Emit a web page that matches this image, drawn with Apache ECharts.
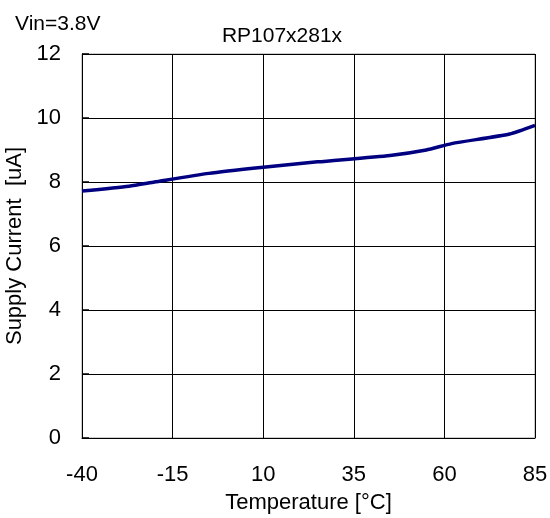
<!DOCTYPE html>
<html><head><meta charset="utf-8">
<script src="https://cdn.jsdelivr.net/npm/echarts@6/dist/echarts.min.js"></script>
<style>html,body{margin:0;padding:0;background:#fff}#c{width:550px;height:518px}</style>
</head><body><div id="c"></div>
<script>
const temps = [-40, -27, -20, -5, 10, 25, 45, 55, 62, 78, 85];
const current = [7.72, 7.87, 8.00, 8.27, 8.46, 8.63, 8.83, 9.00, 9.20, 9.50, 9.77];
const xTicks = [-40, -15, 10, 35, 60, 85];
const yTicks = [0, 2, 4, 6, 8, 10, 12];
const titleText = 'RP107x281x';
const condText = 'Vin=3.8V';
const xName = 'Temperature [°C]';
const yName = 'Supply Current  [uA]';

// x axis is laid out relative to its first tick so ticks fall every 25 from -40
const xMin = xTicks[0];
const xMax = xTicks[xTicks.length - 1];
const xStep = xTicks[1] - xTicks[0];

const font = 'Liberation Sans, Arial, sans-serif';
const chart = echarts.init(document.getElementById('c'), null, {renderer: 'canvas'});
chart.setOption({
  animation: false,
  backgroundColor: '#fff',
  textStyle: {fontFamily: font},
  title: [
    {text: titleText, left: 277, top: 21, textAlign: 'center', textStyle: {fontSize: 21, fontWeight: 'normal', color: '#000', fontFamily: font}},
    {text: condText, left: 10, top: 9, textStyle: {fontSize: 21, fontWeight: 'normal', color: '#000', fontFamily: font}}
  ],
  grid: {left: 82, right: 15, top: 54, bottom: 80, show: true, borderColor: '#999', borderWidth: 1,
         containLabel: false, outerBoundsMode: 'none'},
  xAxis: {
    type: 'value', min: 0, max: xMax - xMin, interval: xStep,
    name: xName, nameLocation: 'middle', nameGap: 54,
    nameTextStyle: {fontSize: 22, color: '#000', fontFamily: font},
    axisLine: {show: true, lineStyle: {color: '#000', width: 1}},
    axisTick: {show: false},
    axisLabel: {fontSize: 22, color: '#000', margin: 26, fontFamily: font, formatter: v => String(v + xMin)},
    splitLine: {show: true, lineStyle: {color: '#000', width: 1}}
  },
  yAxis: {
    type: 'value', min: yTicks[0], max: yTicks[yTicks.length - 1], interval: yTicks[1] - yTicks[0],
    name: yName, nameLocation: 'middle', nameGap: 54,
    nameTextStyle: {fontSize: 22, color: '#000', fontFamily: font},
    axisLine: {show: true, lineStyle: {color: '#000', width: 1}},
    axisTick: {show: true, inside: true, length: 7, lineStyle: {color: '#000', width: 1.5}},
    axisLabel: {fontSize: 22, color: '#000', margin: 21, fontFamily: font},
    splitLine: {show: true, lineStyle: {color: '#000', width: 1}}
  },
  series: [{
    type: 'line', data: temps.map((t, i) => [t - xMin, current[i]]),
    showSymbol: false, smooth: 0.2,
    lineStyle: {color: '#000080', width: 3.5}
  }]
});
</script></body></html>
